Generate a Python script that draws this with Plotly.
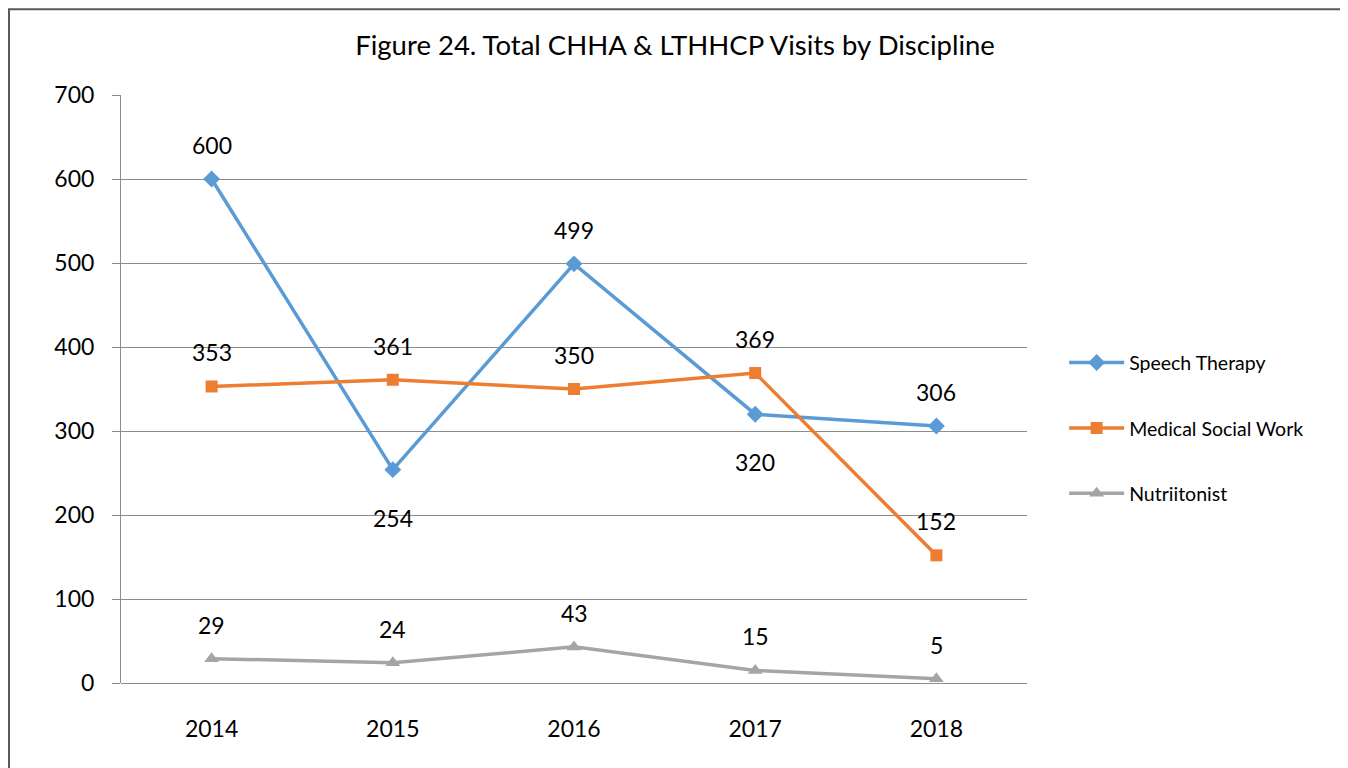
import plotly.graph_objects as go

years = ["2014", "2015", "2016", "2017", "2018"]
speech = [600, 254, 499, 320, 306]
social = [353, 361, 350, 369, 152]
nutrition = [29, 24, 43, 15, 5]

# label above (+) or below (-) the point
speech_pos = [1, -1, 1, -1, 1]
social_pos = [1, 1, 1, 1, 1]
nutrition_pos = [1, 1, 1, 1, 1]

series = [
    ("Speech Therapy", speech, speech_pos, "#5B9BD5", "diamond", 13),
    ("Medical Social Work", social, social_pos, "#ED7D31", "square", 12),
    ("Nutriitonist", nutrition, nutrition_pos, "#A5A5A5", "triangle-up", 13),
]

font = "Lato, 'Open Sans', sans-serif"

fig = go.Figure()
annotations = []
for i, (name, vals, pos, color, sym, size) in enumerate(series):
    fig.add_trace(go.Scatter(
        x=years, y=vals, name=name, mode="lines+markers",
        line=dict(color=color, width=3.5),
        marker=dict(symbol=sym, size=size, color=color),
        legendgroup=str(i),
    ))
    # category axis: annotations take the category index
    for k, (v, p) in enumerate(zip(vals, pos)):
        annotations.append(dict(
            x=k, y=v, text=str(v), showarrow=False,
            yshift=34 if p > 0 else -48,
            font=dict(family=font, size=23, color="#000000"),
        ))

fig.update_layout(
    width=1340, height=760,
    margin=dict(l=113, r=321, t=87, b=85),
    paper_bgcolor="white", plot_bgcolor="white",
    title=dict(text="Figure 24. Total CHHA & LTHHCP Visits by Discipline",
               x=0.4978, xref="container", xanchor="center",
               y=0.951, yref="container", yanchor="middle",
               font=dict(family=font, size=27.5, color="#000000")),
    font=dict(family=font, color="#000000"),
    showlegend=True,
    legend=dict(x=1.041, y=0.433, yanchor="middle", xanchor="left",
                font=dict(family=font, size=19.5, color="#000000"),
                traceorder="grouped", tracegroupgap=37, itemwidth=55),
    annotations=annotations,
    shapes=[dict(type="rect", xref="paper", yref="paper",
                 x0=-0.1236, x1=1.352, y0=-0.2, y1=1.146,
                 line=dict(color="#595959", width=2))],
)
fig.update_xaxes(
    type="category", range=[-0.5, 4.5], showgrid=False,
    showline=False, ticks="", ticklabelstandoff=30,
    tickfont=dict(family=font, size=23, color="#000000"),
)
fig.update_yaxes(
    range=[0, 700], dtick=100, showgrid=True, gridcolor="#8C8C8C", gridwidth=1,
    showline=True, linecolor="#8C8C8C", linewidth=1,
    ticks="outside", ticklen=8, tickcolor="#8C8C8C", ticklabelstandoff=13,
    zeroline=True, zerolinecolor="#8C8C8C", zerolinewidth=1,
    tickfont=dict(family=font, size=23, color="#000000"),
)

fig.write_html("out.html")
